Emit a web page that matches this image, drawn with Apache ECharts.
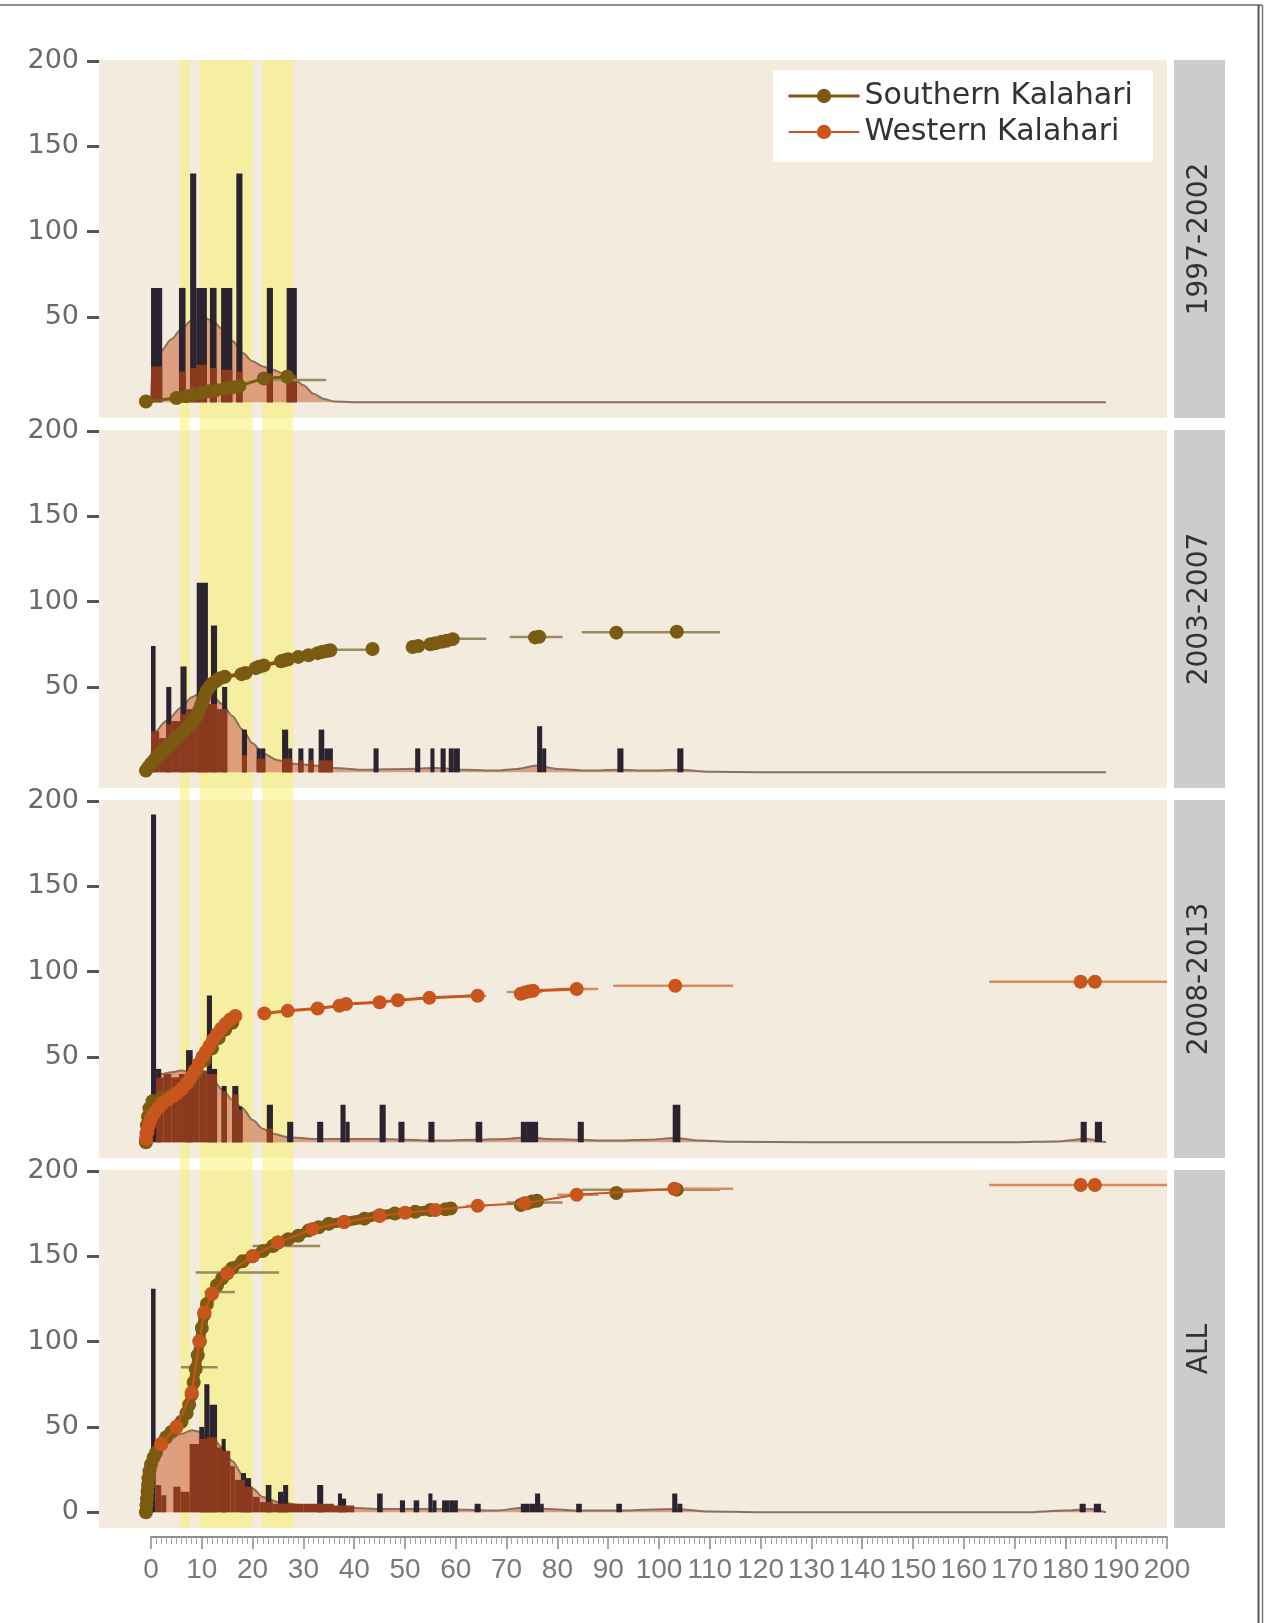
<!DOCTYPE html>
<html><head><meta charset="utf-8">
<script src="https://cdn.jsdelivr.net/npm/echarts@6/dist/echarts.min.js"></script>
<style>html,body{margin:0;padding:0;background:#fff;}#chart{width:1266px;height:1623px;}</style>
</head><body><div id="chart"></div>
<script>
// ---------- data ----------
const panelLabels = ['1997-2002', '2003-2007', '2008-2013', 'ALL'];
const seriesNames = ['Southern Kalahari', 'Western Kalahari'];
const yTicksPanel = [50, 100, 150, 200];
const yTicksAll = [0, 50, 100, 150, 200];
const bands = [[5.7, 7.6], [9.6, 20], [21.9, 28]];
const SEP = ['-', '-'];

// panel 1 : 1997-2002
const darkBars1 = [[0,2.2,67],[5.5,6.8,67],[7.7,8.9,134],[8.9,11,67],[11.6,12.9,67],[13.8,16,67],[16.8,18,134],[22.8,24,67],[26.7,28.7,67]];
const rustBars1 = [[0,2.2,21],[5.5,6.8,18],[7.7,8.9,20],[8.9,11,22],[11.6,12.9,20],[13.8,16,19],[16.8,18,18],[22.8,24,17],[26.7,28.7,16]];
const density1 = [[0,0],[0.3,24],[2,30],[4,37],[6,43],[8,48],[10,50],[12,48],[14,43],[16,36],[18,29],[20,24],[22,21],[24,19],[26,17],[28,14],[30,10],[32,5],[34,2],[36,0.5],[40,0],[188,0]];
const south1 = [[-1,0.5],[5,2.5],[7,3.5],[8.3,4.5],[9.8,5.5],[11.3,6.5],[12.8,7.2],[14.5,8],[16,8.8],[17.4,9.6],[22.2,14],[26.8,15]];
const errSouth1 = [[24,34.5,13]];

// panel 2 : 2003-2007
const darkBars2 = [[0,0.9,74],[3,4,50],[5.8,7,62],[9,11.2,111],[11.8,13,86],[14,15,50],[17.9,18.9,25],[20.8,21.6,14],[21.6,22.5,14],[25.8,27,25],[27,27.8,14],[29,30,14],[31,32,14],[33,34.1,25],[34.1,35.8,14],[43.8,44.8,14],[52,53,14],[55,55.8,14],[57,58,14],[58.6,59.6,14],[59.6,60.8,14],[76,77,27],[77,77.8,14],[91.8,93,14],[103.6,104.8,14]];
const rustBars2 = [[0,1.6,24],[1.6,3,20],[3,4,28],[4,5.8,30],[5.8,7,34],[7,9,37],[9,11.2,41],[11.2,13,40],[13,15,37],[17.9,18.9,10],[20.8,22.5,8],[25.8,27.8,8],[29,30,7],[31,32,7],[33,35.8,7]];
const density2 = [[0,0],[0.3,22],[3,30],[6,38],[8,44],[10,47],[12,45],[14,40],[16,33],[18,25],[20,17],[22,11],[25,7],[28,5],[32,4],[36,2.5],[42,1.5],[50,2],[56,2.5],[62,1.5],[68,1],[72,2],[76,4],[80,2],[86,1],[92,1.5],[98,1],[104,1.5],[110,0.3],[120,0],[188,0]];
const south2 = [[-1,1],[-0.5,3],[0,5],[0.6,7],[1.1,9],[1.6,10.5],[2.2,12],[2.7,13.5],[3.2,15],[3.8,16.5],[4.3,18],[4.9,19.5],[5.4,21],[5.9,22.5],[6.4,24],[7,26],[7.5,27.5],[8,29],[8.5,31],[9,33],[9.4,36],[9.8,39],[10.2,42],[10.6,45],[11,48],[11.5,50],[12.1,52],[12.8,53.5],[13.5,55],[14.5,56],[17.8,57.5],[18.6,58.2],[20.6,61],[21.3,61.8],[22.2,62.6],[25.6,65],[26.3,65.6],[27,66.2],[29,67.6],[31,68.6],[32.8,69.8],[33.6,70.4],[34.6,71],[35.3,71.5],SEP,[43.6,72.2],SEP,[51.5,73.4],[52.6,74],[55,75],[56,75.6],[57.2,76.4],[58.2,77],[59.4,78],SEP,[75.6,79],[76.4,79.4],SEP,[91.6,81.8],SEP,[103.5,82.3]];
const errSouth2 = [[35.3,43.6,71.8],[59.4,66,78.2],[70.6,81,79.2],[84.8,112,82]];

// panel 3 : 2008-2013
const darkBars3 = [[0,1,192],[1,2,43],[6.9,8.2,54],[11,12,86],[12,13,43],[13.9,14.9,33],[16,17.2,33],[17.2,18,21],[22.8,24,22],[26.8,28,12],[32.7,33.9,12],[37.3,38.3,22],[38.3,39.1,12],[45,46.2,22],[48.7,49.9,12],[54.6,55.8,12],[63.9,65.2,12],[72.8,74,12],[74,75.2,12],[75.2,76.2,12],[84,85.2,12],[102.7,104.2,22],[183,184.2,12],[185.8,187.2,12]];
const rustBars3 = [[1,2.5,38],[2.5,4,40],[4,5.5,38],[5.5,6.9,40],[6.9,8.2,42],[8.2,9.6,40],[9.6,11,42],[11,13,40],[13.9,14.9,30],[16,17.2,28],[17.2,18,19],[22.8,24,8]];
const density3 = [[0,0],[0.3,36],[2,40],[4,41],[6,42],[8,41],[10,40],[12,37],[14,31],[16,25],[18,20],[20,13],[22,8],[24,5],[27,3],[32,2],[38,2],[45,2],[50,1.5],[56,1],[64,1.5],[70,2],[74,3],[78,2],[84,1.5],[90,1],[98,1.5],[103,2.5],[108,1],[115,0.3],[130,0],[170,0],[178,0.5],[184,2],[188,0]];
const south3 = [[-1,0],[-0.9,5],[-0.8,10],[-0.6,15],[-0.3,20],[0.3,24],[2,26],[4,28],[6,31],[7.5,35],[9,41],[10.5,48],[12,55],[13.3,61],[14.6,66],[16,70]];
const west3 = [[-1,2],[-0.7,6],[-0.4,10],[0,14],[0.6,17],[1.4,20],[2.3,23],[3.3,25],[4.3,27],[5.2,29],[6.1,31.5],[7,34.5],[7.8,38],[8.6,42],[9.4,46],[10.1,50],[10.8,53],[11.5,56.5],[12.2,60],[13,63.5],[13.8,66.5],[14.7,69.5],[15.6,72],[16.6,74],SEP,[22.3,75.5],[26.9,77],[32.8,78.4],[37.1,80],[38.4,81],[45,82],[48.6,83.2],[54.8,84.6],[64.3,85.8],SEP,[72.8,87],[73.6,87.8],[74.4,88.4],[75.2,88.8],[83.8,89.8],SEP,[103.2,91.7],SEP,[183,94],[185.8,94]];
const errWest3 = [[62,66,85.8],[70,77,88],[80,88,89.8],[91,114.6,91.7],[165,201,94]];

// panel 4 : ALL
const darkBars4 = [[0,0.9,131],[9.5,10.5,50],[10.5,11.5,75],[11.5,13,63],[13.9,14.7,43],[17.7,18.7,23],[18.7,19.7,20],[22.6,23.7,16],[25,26,12],[26,27,16],[32.7,33.9,16],[36.8,37.6,11],[37.6,38.4,8],[44.5,45.6,11],[49,50,7],[51.7,52.8,7],[54.6,55.4,11],[55.4,56.2,7],[57.3,58.8,7],[58.8,60.4,7],[63.7,64.9,5],[72.8,74.5,5],[74.5,75.6,5],[75.6,76.6,11],[76.6,77.3,5],[83.7,84.8,5],[91.6,92.7,5],[102.6,103.6,11],[103.6,104.6,5],[182.8,184,5],[185.6,187,5]];
const rustBars4 = [[0.9,2,16],[2,3,10],[4.4,5.8,15],[5.8,7.6,12],[7.6,9.5,40],[9.5,11,43],[11,13,44],[13,14,38],[14,15.6,36],[15.6,16.5,27],[16.5,18.5,19],[18.5,20,15],[20,21.4,9],[21.4,24,6],[24,30,5],[30,36,5],[36,40,4]];
const density4 = [[0,0],[0.3,38],[2,42],[4,44],[6,46],[8,48],[10,47],[12,44],[14,38],[16,30],[18,22],[20,14],[22,9],[25,6],[30,4],[35,3],[40,2.5],[45,2],[50,2],[56,2],[62,1.5],[68,1],[74,3],[78,2],[84,1],[92,1],[103,2],[110,0.5],[120,0],[172,0],[180,1],[185,2],[188,0]];
const south4 = [[-1,0],[-0.9,4],[-0.8,8],[-0.7,12],[-0.6,16],[-0.5,20],[-0.3,24],[0,28],[0.5,32],[1,35],[2,40],[3,44],[4,47],[5,50],[6,53],[7,58],[7.5,63],[8,69],[8.4,76],[8.8,84],[9.2,92],[9.6,100],[10,108],[10.5,116],[11,122],[12,128],[13,133],[14,137],[15,140],[16,143],[18,147],[20,150],[22,153],[24,156],[25,158],[27,160],[29,162],[31,165],[33,167],[35,169],[38,170],[42,172],[45,174],[48,175],[52,176],[55,177],[58,177.5],[59,178],SEP,[72.8,180],[74,181],[75,182],[76,182.5],SEP,[91.6,187],SEP,[103.5,189]];
const west4 = [[2,40],[5,50],[8,70],[9.5,100],[10.5,117],[12,128],[15,140],[20,150],[25,158],[31.8,166],[38,170],[45,173.5],[50,175.5],[56,177],[64.3,179.5],[73.5,181],[83.8,186],[103,189.5],SEP,[183,191.7],[185.8,191.7]];
const errSouth4 = [[5.9,13.1,85],[10.5,16.5,129],[8.8,25.2,140.5],[20,33.3,156],[70,81,181.5],[84.8,112,189]];
const errWest4 = [[62,66,179.5],[80,88,186],[105,114.6,189.5],[165,201,191.7]];

// ---------- layout ----------
const W = 1266, H = 1623;
const panelTops = [60, 430, 800, 1170];
const panelH = 358;
const plotLeft = 99, plotRight = 99;
const xMinPanel = -10.24, xMax = 200;
const yMin = -9.2, yMax = 200.5;
const southWidths = [3, 4, 7, 10];
const westWidths = [2, 2, 3, 2];

const C = {
  bg: '#f3ecde', dark: '#2b2330', rust: '#8b3a1d', dens: '#d99070', densLine: '#8b705f',
  south: '#7b5a12', west: '#c8561c', errS: '#9a8a62', errW: '#d98a5e', band: 'rgba(250,240,100,0.5)'
};

const panels = [
  {dark: darkBars1, rust: rustBars1, dens: density1, south: south1, west: null, errS: errSouth1, errW: null},
  {dark: darkBars2, rust: rustBars2, dens: density2, south: south2, west: null, errS: errSouth2, errW: null},
  {dark: darkBars3, rust: rustBars3, dens: density3, south: south3, west: west3, errS: null, errW: errWest3},
  {dark: darkBars4, rust: rustBars4, dens: density4, south: south4, west: west4, errS: errSouth4, errW: errWest4}
];

function rectRender(params, api) {
  const p0 = api.coord([api.value(0), api.value(2)]);
  const p1 = api.coord([api.value(1), 0]);
  return {type: 'rect', shape: {x: p0[0], y: p0[1], width: p1[0] - p0[0], height: p1[1] - p0[1]},
          style: {fill: api.visual('color')}};
}
function errRender(params, api) {
  const p0 = api.coord([api.value(0), api.value(2)]);
  const p1 = api.coord([api.value(1), api.value(2)]);
  return {type: 'line', shape: {x1: p0[0], y1: p0[1], x2: p1[0], y2: p1[1]},
          style: {stroke: api.visual('color'), lineWidth: 2.5}};
}
function bandRender(params, api) {
  const p0 = api.coord([api.value(0), 1]);
  const p1 = api.coord([api.value(1), 0]);
  return {type: 'rect', shape: {x: p0[0], y: p0[1], width: p1[0] - p0[0], height: p1[1] - p0[1]},
          style: {fill: C.band}};
}

const grids = [], xAxes = [], yAxes = [], series = [];
panels.forEach((p, i) => {
  grids.push({left: plotLeft, right: plotRight, top: panelTops[i], height: panelH, show: true,
              backgroundColor: C.bg, borderWidth: 0, containLabel: false});
  xAxes.push({gridIndex: i, type: 'value', min: xMinPanel, max: xMax, show: false});
  const ticks = i === 3 ? yTicksAll : yTicksPanel;
  yAxes.push({gridIndex: i, type: 'value', min: yMin, max: yMax, position: 'left',
    axisLine: {show: false, onZero: false}, splitLine: {show: false},
    axisTick: {show: true, customValues: ticks, length: 12, lineStyle: {color: '#555', width: 3}},
    axisLabel: {customValues: ticks, margin: 20, color: '#6a6a6a', fontSize: 27, fontFamily: 'DejaVu Sans'}});
  series.push({type: 'line', name: 'density' + i, xAxisIndex: i, yAxisIndex: i, data: p.dens,
    smooth: 0.3, smoothMonotone: 'x', symbol: 'none', silent: true, z: 2,
    lineStyle: {color: C.densLine, width: 2}, areaStyle: {color: C.dens, opacity: 0.85}});
  series.push({type: 'custom', name: 'hist' + i, xAxisIndex: i, yAxisIndex: i, data: p.dark,
    encode: {x: [0, 1], y: 2}, renderItem: rectRender, itemStyle: {color: C.dark}, clip: true, z: 3, silent: true});
  series.push({type: 'custom', name: 'rust' + i, xAxisIndex: i, yAxisIndex: i, data: p.rust,
    encode: {x: [0, 1], y: 2}, renderItem: rectRender, itemStyle: {color: C.rust}, clip: true, z: 4, silent: true});
  if (p.errS) series.push({type: 'custom', name: 'errS' + i, xAxisIndex: i, yAxisIndex: i, data: p.errS,
    encode: {x: [0, 1], y: 2}, renderItem: errRender, itemStyle: {color: C.errS}, clip: true, z: 5, silent: true});
  if (p.errW) series.push({type: 'custom', name: 'errW' + i, xAxisIndex: i, yAxisIndex: i, data: p.errW,
    encode: {x: [0, 1], y: 2}, renderItem: errRender, itemStyle: {color: C.errW}, clip: true, z: 5, silent: true});
  if (p.south) series.push({type: 'line', name: seriesNames[0], xAxisIndex: i, yAxisIndex: i, data: p.south,
    symbol: 'circle', symbolSize: 14, showSymbol: true, showAllSymbol: true, connectNulls: false, z: 6,
    itemStyle: {color: C.south}, lineStyle: {color: C.south, width: southWidths[i]}});
  if (p.west) series.push({type: 'line', name: seriesNames[1], xAxisIndex: i, yAxisIndex: i, data: p.west,
    symbol: 'circle', symbolSize: 14, showSymbol: true, showAllSymbol: true, connectNulls: false, z: 7,
    itemStyle: {color: C.west}, lineStyle: {color: C.west, width: westWidths[i]}});
});

// full-height band layer
grids.push({left: plotLeft, right: plotRight, top: panelTops[0], bottom: H - (panelTops[3] + panelH), show: false});
xAxes.push({gridIndex: 4, type: 'value', min: xMinPanel, max: xMax, show: false});
yAxes.push({gridIndex: 4, type: 'value', min: 0, max: 1, show: false});
series.push({type: 'custom', name: 'bands', xAxisIndex: 4, yAxisIndex: 4, data: bands,
  encode: {x: [0, 1]}, renderItem: bandRender, z: 1, silent: true});

// bottom ruler axis
const xZeroPx = plotLeft + (0 - xMinPanel) / (xMax - xMinPanel) * (W - plotLeft - plotRight);
grids.push({left: xZeroPx, right: plotRight, top: 1530, bottom: 86, show: false});
xAxes.push({gridIndex: 5, type: 'value', min: 0, max: 200, interval: 10, position: 'bottom',
  axisLine: {show: true, onZero: false, lineStyle: {color: '#8c8c8c', width: 2}},
  axisTick: {show: true, length: 12, lineStyle: {color: '#8c8c8c', width: 1.5}},
  minorTick: {show: true, splitNumber: 10, length: 7, lineStyle: {color: '#a3a3a3', width: 1}},
  splitLine: {show: false}, minorSplitLine: {show: false},
  axisLabel: {interval: 0, margin: 19, showMinLabel: true, showMaxLabel: true, fontSize: 28, color: '#7a7a7a',
    fontFamily: "'Liberation Sans', Arial, sans-serif"}});
yAxes.push({gridIndex: 5, type: 'value', show: false});

// strips and frame
const graphic = [];
panelLabels.forEach((t, i) => {
  graphic.push({type: 'rect', silent: true, shape: {x: 1174, y: panelTops[i], width: 51, height: panelH}, style: {fill: '#cccccc'}});
  graphic.push({type: 'text', silent: true, x: 1199.5, y: panelTops[i] + panelH / 2, rotation: Math.PI / 2,
    style: {text: t, fontSize: 28, fontFamily: 'DejaVu Sans', fill: '#333', align: 'center', verticalAlign: 'middle',
            textAlign: 'center', textVerticalAlign: 'middle'}});
});
graphic.push({type: 'line', silent: true, shape: {x1: 0, y1: 5, x2: 1262, y2: 5}, style: {stroke: '#8f8f8f', lineWidth: 2}});
graphic.push({type: 'line', silent: true, shape: {x1: 1258.5, y1: 5, x2: 1258.5, y2: H}, style: {stroke: '#555', lineWidth: 2}});
graphic.push({type: 'line', silent: true, shape: {x1: 1262.5, y1: 5, x2: 1262.5, y2: H}, style: {stroke: '#777', lineWidth: 1.5}});

const option = {
  animation: false,
  backgroundColor: '#ffffff',
  grid: grids, xAxis: xAxes, yAxis: yAxes, series: series, graphic: graphic,
  legend: {
    data: [
      {name: seriesNames[0], lineStyle: {width: 3}, itemStyle: {color: C.south}},
      {name: seriesNames[1], lineStyle: {width: 2}, itemStyle: {color: C.west}}
    ],
    left: 773, top: 70, orient: 'vertical', backgroundColor: '#ffffff',
    padding: [8, 20, 12, 14], itemGap: 0, itemWidth: 71, itemHeight: 18, selectedMode: false,
    textStyle: {fontFamily: 'DejaVu Sans', fontSize: 30, color: '#333', lineHeight: 36}
  }
};
const chart = echarts.init(document.getElementById('chart'), null, {renderer: 'canvas', width: W, height: H});
chart.setOption(option);
</script>
</body></html>
